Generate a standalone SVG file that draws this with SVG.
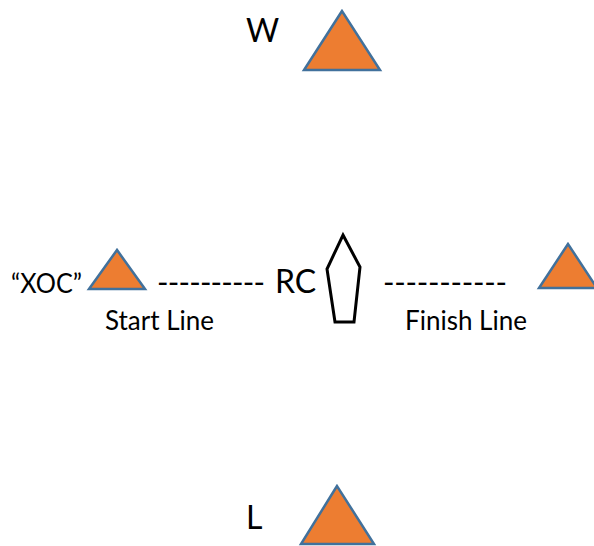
<svg xmlns="http://www.w3.org/2000/svg" width="594" height="546" viewBox="0 0 594 546">
<style>
.mark{fill:#ED7D31;stroke:#41719C;stroke-width:2.5;stroke-linejoin:miter}
.boat{fill:#FFFFFF;stroke:#000000;stroke-width:3;stroke-linejoin:miter}
.big{font-family:Lato,"Open Sans","Liberation Sans",sans-serif;font-size:32px;fill:#000}
.small{font-family:Lato,"Open Sans","Liberation Sans",sans-serif;font-size:26px;fill:#000}
.dash{font-family:Lato,"Open Sans","Liberation Sans",sans-serif;font-size:31px;fill:#000}
</style>
<rect width="594" height="546" fill="#FFFFFF"/>
<g id="mark-W">
<polygon class="mark" points="342,11 304,70 380,70"/>
<text class="big" x="246" y="42">W</text>
</g>
<g id="mark-start">
<polygon class="mark" points="117,250 89,289 145,289"/>
<text class="small" x="11" y="293" font-size="25" textLength="71" lengthAdjust="spacingAndGlyphs">“XOC”</text>
</g>
<g id="committee-boat">
<polygon class="boat" points="343,235 360,267 354,322 335,322 327,269"/>
<text class="big" x="275" y="293">RC</text>
</g>
<g id="mark-finish">
<polygon class="mark" points="568,244 539,288 597,288"/>
</g>
<g id="mark-L">
<polygon class="mark" points="337,486 301,544 374,544"/>
<text class="big" x="246" y="529">L</text>
</g>
<g id="connectors">
<text class="dash" x="157" y="293" textLength="108" lengthAdjust="spacing">----------</text>
<text class="small" x="105" y="330">Start Line</text>
<text class="dash" x="383" y="293" textLength="124" lengthAdjust="spacing">-----------</text>
<text class="small" x="405" y="330">Finish Line</text>
</g>
</svg>
